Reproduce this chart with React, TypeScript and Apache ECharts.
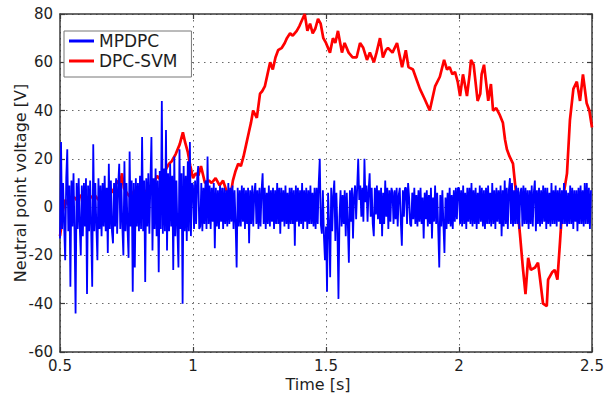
import React, { useEffect, useRef } from "react";
import * as echarts from "echarts";

// Legend / series names
const SERIES_NAMES = ["MPDPC", "DPC-SVM"];

// Axis ticks
const X_MIN = 0.5;
const X_MAX = 2.5;
const X_STEP = 0.5;
const Y_MIN = -60;
const Y_MAX = 80;
const Y_STEP = 20;

// MPDPC neutral point voltage [V], sampled uniformly in 0.25 s segments
const SEG_STARTS = [0.5, 0.75, 1.0, 1.25, 1.5, 1.75, 2.0, 2.25];
const SEG_SPAN = 0.25;

const mpdpc050 = [
  -13, 27, -9, 10, -8, -22, 12, 24, -10, 9, -33, 11, -8, 14, -11, -44,
  10, -9, 12, -8, -20, 9, -12, 10, -8, 12, -36, 9, -10, 11, -9, -33,
  26, -10, 10, -8, -22, 12, -9, 9, -12, 10, -8, 13, -10, 8, -19, 18,
  -9, 11, -10, -15, 10, -8, 12, -11, 9, 18, -9, 10, -8, -20, 19, -10,
];
const mpdpc075 = [
  10, -9, -21, 23, -8, 11, -35, 10, -25, 12, -8, 10, -10, 13, -9, 29,
  -10, 11, -31, 12, -8, 14, -11, 10, 29, -18, 12, -9, 16, -12, 11, -27,
  15, -9, 44, -11, 16, -10, 32, -18, 14, -10, 18, -8, 13, -26, 21, -12,
  11, -9, -25, 24, -9, 14, -40, 17, -10, 13, -14, 19, -10, 27, -12, 10,
];
const mpdpc100 = [
  9, -9, 11, -7, 12, 17, -9, -8, 10, -10, 8, -7, 11, -9, 21, -7,
  9, -9, 8, -6, 10, -17, 8, -8, 7, -9, 9, -6, 8, -9, 8, -7,
  7, -8, 10, -7, 8, -6, 9, -9, 7, -7, -25, 8, -8, 7, -8, 9,
  -6, 8, -9, 7, -7, 8, -15, 7, -7, 9, -8, 6, 10, -7, 7, -9,
];
const mpdpc125 = [
  8, -8, 7, 14, -7, 8, -9, 6, -7, 9, -8, 7, -6, 8, -9, 7,
  -7, 10, -7, 8, -11, 8, -6, 7, -8, 9, -7, 6, -9, 8, -7, 8,
  -7, 7, -16, 9, -6, 8, -8, 7, -7, 10, -9, 7, -6, 8, -9, 7,
  -7, 9, -7, 6, -8, 8, -9, 8, -7, 10, 20, -7, -11, 7, -12, -22,
];
const mpdpc150 = [
  -8, -35, 6, -7, -29, 8, -10, 5, 11, -14, 6, -9, -38, -4, 7, -8,
  5, -7, 7, -12, 6, -7, -23, 7, -6, 8, -13, 5, 9, -5, 8, 20,
  3, 9, -4, 8, -6, 20, 2, 9, -6, 7, 14, -4, 8, -7, -12, 8,
  -3, 9, -5, 7, -7, 8, -12, 6, -7, 11, -4, 8, -9, 7, -6, 8,
];
const mpdpc175 = [
  6, -7, 7, -5, 8, -8, 5, 8, -6, -16, 7, -4, 8, 8, -7, 10,
  4, -7, -8, 6, -5, 8, -7, 5, -8, 7, -6, 8, -7, 4, -13, 6,
  -5, 7, -8, 5, -7, 8, -13, 4, -6, 9, -7, 6, -9, -25, 5, -8,
  7, -7, -19, 4, -9, 6, -7, 8, -8, 5, -9, 7, -6, 8, -5, 8,
];
const mpdpc200 = [
  8, -7, 7, -8, 9, -7, 6, -9, 8, -6, 8, -7, 10, -8, 7, -7,
  8, -9, 6, -7, 9, -6, 8, -8, 7, -9, 8, -7, 9, -7, 6, -8,
  10, -7, 7, -9, 8, -6, 7, -7, 9, -12, 7, -8, 11, -7, 8, -9,
  7, 12, -7, 10, -8, 7, -7, 9, -7, 8, -9, 6, 8, -8, 9, -7,
];
const mpdpc225 = [
  8, -7, 7, -9, 7, -7, 9, -8, 6, 11, -10, 7, -7, 8, -8, 7,
  -7, 9, -6, 8, -9, 8, -7, 6, -8, 10, -7, 7, -7, 9, -8, 7,
  -6, 8, -9, 7, -7, 10, -7, 7, -8, 6, -7, 9, -7, 8, -9, 7,
  -6, 7, -10, 8, -7, 9, -7, 7, -8, 10, -7, 10, -7, 8, -9, 7,
];
const MPDPC_SEGMENTS = [
  mpdpc050, mpdpc075, mpdpc100, mpdpc125,
  mpdpc150, mpdpc175, mpdpc200, mpdpc225,
];

// DPC-SVM neutral point voltage: time [s] and value [V]
const dpcSvmT = [
  0.5, 0.505, 0.51, 0.52, 0.53, 0.54, 0.555, 0.57, 0.575, 0.59, 0.6, 0.615,
  0.63, 0.645, 0.66, 0.675, 0.69, 0.7, 0.714, 0.725, 0.733, 0.74, 0.75, 0.765,
  0.78, 0.795, 0.81, 0.82, 0.835, 0.85, 0.865, 0.88, 0.895, 0.91, 0.92, 0.935,
  0.95, 0.962, 0.97, 0.98, 0.99, 1.0, 1.01, 1.02, 1.03, 1.045, 1.06, 1.07,
  1.085, 1.1, 1.113, 1.125, 1.14, 1.15, 1.16, 1.17, 1.18, 1.19, 1.2, 1.21,
  1.218, 1.226, 1.24, 1.252, 1.26, 1.27, 1.28, 1.29, 1.3, 1.31, 1.32, 1.334,
  1.345, 1.353, 1.365, 1.375, 1.39, 1.4, 1.42, 1.43, 1.44, 1.45, 1.46, 1.47,
  1.48, 1.49, 1.5, 1.515, 1.526, 1.535, 1.545, 1.56, 1.57, 1.585, 1.6, 1.615,
  1.628, 1.64, 1.654, 1.665, 1.68, 1.69, 1.703, 1.714, 1.725, 1.733, 1.75, 1.767,
  1.786, 1.8, 1.81, 1.827, 1.84, 1.853, 1.87, 1.89, 1.9, 1.91, 1.928, 1.944,
  1.955, 1.965, 1.975, 1.985, 1.995, 2.004, 2.015, 2.03, 2.04, 2.045, 2.055, 2.07,
  2.08, 2.085, 2.094, 2.11, 2.12, 2.128, 2.14, 2.154, 2.165, 2.173, 2.18, 2.19,
  2.203, 2.216, 2.229, 2.24, 2.25, 2.26, 2.27, 2.286, 2.297, 2.305, 2.316, 2.33,
  2.335, 2.35, 2.36, 2.37, 2.38, 2.39, 2.406, 2.417, 2.43, 2.443, 2.455, 2.466,
  2.48, 2.49, 2.5,
];
const dpcSvmV = [
  -12, -8, -2, 3, 1, 4, 4, 2, 5, 3, 1, 4,
  5, 3, 6, 4, 8, 6, 11, 9, 14, 8, 6, 4,
  7, 5, 3, 7, 5, 9, 13, 11, 15, 18, 19, 22,
  26, 31, 27, 23, 17, 12, 14, 13, 17, 10, 11, 10,
  12, 9, 11, 7, 4, 11, 15, 18, 17, 21, 26, 31,
  35, 40, 37, 47, 48, 50, 55, 60, 57, 62, 65, 66,
  68, 70, 72, 71, 73, 75, 80, 73, 76, 72, 74, 78,
  76, 70, 68, 64, 70, 68, 73, 64, 68, 64, 62, 62,
  68, 66, 61, 64, 60, 64, 70, 62, 65, 66, 64, 68,
  58, 65, 58, 57, 53, 49, 45, 40, 45, 50, 54, 61,
  57, 58, 55, 56, 52, 46, 55, 46, 55, 61, 59, 44,
  47, 55, 59, 44, 51, 40, 41, 38, 35, 28, 24, 21,
  18, 4, -11, -25, -36, -21, -26, -25, -23, -30, -40, -41,
  -30, -27, -26, -30, -14, 3, 14, 36, 49, 52, 44, 55,
  43, 40, 33,
];

const FONT = "DejaVu Sans";
const TEXT_COLOR = "#1e1e1e";
const AXIS_COLOR = "#3a3a3a";

export default function App() {
  const ref = useRef<HTMLDivElement>(null);

  useEffect(() => {
    document.body.style.margin = "0";
    const chart = echarts.init(ref.current!, null, { renderer: "svg" });

    const mpdpcData: number[][] = [];
    MPDPC_SEGMENTS.forEach((seg, s) => {
      const dt = SEG_SPAN / seg.length;
      seg.forEach((v, i) => mpdpcData.push([SEG_STARTS[s] + i * dt, v]));
    });
    const dpcSvmData = dpcSvmT.map((t, i) => [t, dpcSvmV[i]]);

    const boxAxisCommon = {
      type: "value" as const,
      axisLine: { show: true, onZero: false, lineStyle: { color: AXIS_COLOR, width: 1.5 } },
      axisTick: { show: true, inside: true, length: 5, lineStyle: { color: AXIS_COLOR, width: 1.2 } },
    };

    chart.setOption({
      animation: false,
      textStyle: { fontFamily: FONT },
      grid: {
        left: 60,
        right: 23,
        top: 14,
        bottom: 42,
        containLabel: false,
        outerBoundsMode: "none",
      },
      legend: {
        data: SERIES_NAMES,
        orient: "vertical",
        left: 64,
        top: 31,
        icon: "rect",
        itemWidth: 25,
        itemHeight: 3,
        itemGap: 0,
        itemTextGap: 6,
        padding: [0, 14, 6, 5],
        backgroundColor: "#ffffff",
        borderColor: "#777777",
        borderWidth: 1,
        borderRadius: 0,
        selectedMode: false,
        textStyle: { fontFamily: FONT, fontSize: 17, color: TEXT_COLOR, lineHeight: 20 },
      },
      xAxis: [
        {
          ...boxAxisCommon,
          position: "bottom",
          min: X_MIN,
          max: X_MAX,
          interval: X_STEP,
          axisLabel: { fontFamily: FONT, fontSize: 15, color: TEXT_COLOR, margin: 6, lineHeight: 15 },
          splitLine: { show: true, lineStyle: { type: [1.5, 4.5], color: "#6a6a6a", width: 1 } },
          name: "Time [s]",
          nameLocation: "middle",
          nameGap: 24,
          nameMoveOverlap: false,
          nameTextStyle: {
            fontFamily: FONT,
            fontSize: 16,
            lineHeight: 16,
            color: TEXT_COLOR,
            padding: [0, 16, 0, 0],
          },
        },
        {
          ...boxAxisCommon,
          position: "top",
          min: X_MIN,
          max: X_MAX,
          interval: X_STEP,
          axisLabel: { show: false },
          splitLine: { show: false },
        },
      ],
      yAxis: [
        {
          ...boxAxisCommon,
          position: "left",
          min: Y_MIN,
          max: Y_MAX,
          interval: Y_STEP,
          axisLabel: { fontFamily: FONT, fontSize: 15, color: TEXT_COLOR, margin: 7 },
          splitLine: { show: true, lineStyle: { type: [1.5, 4.5], color: "#6a6a6a", width: 1 } },
          name: "Neutral point voltage [V]",
          nameLocation: "middle",
          nameGap: 32,
          nameMoveOverlap: false,
          nameTextStyle: { fontFamily: FONT, fontSize: 16, color: TEXT_COLOR },
        },
        {
          ...boxAxisCommon,
          position: "right",
          min: Y_MIN,
          max: Y_MAX,
          interval: Y_STEP,
          axisLabel: { show: false },
          splitLine: { show: false },
        },
      ],
      series: [
        {
          name: SERIES_NAMES[1],
          type: "line",
          data: dpcSvmData,
          showSymbol: false,
          symbol: "none",
          silent: true,
          z: 2,
          lineStyle: { color: "#ff0000", width: 2.7 },
          itemStyle: { color: "#ff0000" },
        },
        {
          name: SERIES_NAMES[0],
          type: "line",
          data: mpdpcData,
          showSymbol: false,
          symbol: "none",
          silent: true,
          z: 3,
          lineStyle: { color: "#0000ff", width: 1.8 },
          itemStyle: { color: "#0000ff" },
        },
      ],
    });

    return () => chart.dispose();
  }, []);

  return (
    <div
      ref={ref}
      style={{ position: "absolute", left: 0, top: 0, width: 615, height: 394 }}
    />
  );
}
